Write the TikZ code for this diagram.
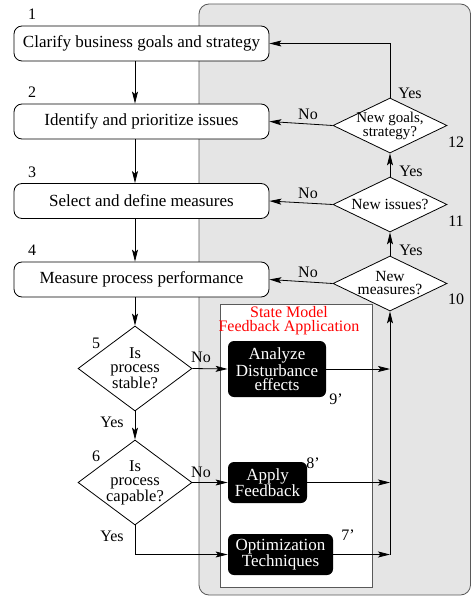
\documentclass[tikz,border=0pt]{standalone}
\usepackage{fontspec}
\setmainfont{Liberation Serif}
\usetikzlibrary{shapes.geometric,arrows.meta}
\begin{document}
\begin{tikzpicture}[x=1pt,y=-1pt,line width=0.8pt,
  box/.style={draw, rounded corners=8pt, fill=white, minimum width=255pt, minimum height=35pt, inner sep=0pt, font=\fontsize{17}{18}\selectfont},
  dec/.style={draw, diamond, fill=white, inner sep=0pt, minimum width=114pt},
  dtext/.style={inner sep=0pt, align=center},
  blk/.style={fill=black, text=white, rounded corners=6pt, align=center, inner sep=0pt, font=\fontsize{17}{14}\selectfont},
  lbl/.style={inner sep=0pt, font=\fontsize{16}{16}\selectfont},
  arr/.style={-{Stealth[length=12pt,width=6pt,inset=2.5pt]}}
]
\useasboundingbox (0,0) rectangle (471,596);
% panels
\draw[fill=black!10, draw=black!65, rounded corners=10pt] (199,4) rectangle (470.5,595);
\draw[fill=white, draw=black!65] (220,304) rectangle (372,587);
\node[inner sep=0pt, text=red, align=center, font=\fontsize{16}{14}\selectfont] (title) at (289,321) {State Model\\Feedback Application};
% left boxes
\node[box] (b1) at (141.5,43.5) {Clarify business goals and strategy};
\node[box] (b2) at (141.5,121.5) {Identify and prioritize issues};
\node[box] (b3) at (141.5,201) {Select and define measures};
\node[box] (b4) at (141.5,279.5) {Measure process performance};
% decisions
\node[dec, minimum height=85pt] (d5) at (135,368.5) {};
\node[dtext, font=\fontsize{16.5}{14}\selectfont] (t5) at (d5) {Is\\process\\stable?};
\node[dec, minimum height=85pt] (d6) at (135,482.5) {};
\node[dtext, font=\fontsize{16.5}{14}\selectfont] (t6) at (d6) {Is\\process\\capable?};
\node[dec, minimum height=55pt] (d10) at (390,283.5) {};
\node[dtext, font=\fontsize{15.5}{13}\selectfont] (t10) at (d10) {New\\measures?};
\node[dec, minimum height=55pt] (d11) at (390,204.5) {};
\node[dtext, font=\fontsize{15.5}{14}\selectfont] (t11) at (d11) {New issues?};
\node[dec, minimum height=55pt] (d12) at (390,125.5) {};
\node[dtext, font=\fontsize{15}{11}\selectfont] (t12) at (d12) {New goals,\\strategy?};
% black boxes
\node[blk, minimum width=98pt, minimum height=56pt] (an) at (277,369) {Analyze\\Disturbance\\effects};
\node[blk, minimum width=79pt, minimum height=41pt] (ap) at (267.5,482.5) {Apply\\Feedback};
\node[blk, minimum width=105pt, minimum height=41pt] (op) at (280.5,554.5) {Optimization\\Techniques};
% numbers
\node[lbl] (n1) at (32,14) {1};
\node[lbl] (n2) at (32,92) {2};
\node[lbl] (n3) at (32,172) {3};
\node[lbl] (n4) at (32,250) {4};
\node[lbl] (n5) at (96,343) {5};
\node[lbl] (n6) at (96,456) {6};
\node[lbl] (n7) at (348,535) {7'};
\node[lbl] (n8) at (313,463) {8'};
\node[lbl] (n9) at (336,399) {9'};
\node[lbl] (n10) at (456,299) {10};
\node[lbl] (n11) at (456,221) {11};
\node[lbl] (n12) at (456,142) {12};
% yes/no labels
\node[lbl] (y12) at (410,93) {Yes};
\node[lbl] (y11) at (411,171) {Yes};
\node[lbl] (y10) at (411,250) {Yes};
\node[lbl] (y5) at (112,422) {Yes};
\node[lbl] (y6) at (112,536) {Yes};
\node[lbl] (no2) at (308,114) {No};
\node[lbl] (no3) at (308,193) {No};
\node[lbl] (no4) at (308,272) {No};
\node[lbl] (no5) at (201,357) {No};
\node[lbl] (no6) at (201,472) {No};
% connectors, main column
\draw[arr] (b1.south -| d5.north) -- (b2.north -| d5.north);
\draw[arr] (b2.south -| d5.north) -- (b3.north -| d5.north);
\draw[arr] (b3.south -| d5.north) -- (b4.north -| d5.north);
\draw[arr] (b4.south -| d5.north) -- (d5.north);
\draw[arr] (d5.south) -- (d6.north);
\draw[arr] (d5.east) -- (an.west);
\draw[arr] (d6.east) -- (ap.west);
\draw[arr] (d6.south) |- (op.west);
% right side
\draw[arr] (an.east) -- (an.east -| d10.south);
\draw[arr] (ap.east) -- (ap.east -| d10.south);
\draw[arr] (op.east) -- (op.east -| d10.south);
\draw[arr] (op.east -| d10.south) -- (d10.south);
\draw[arr] (d10.north) -- (d11.south);
\draw[arr] (d11.north) -- (d12.south);
\draw[arr] (d12.north) |- (b1.east);
\draw[arr] (d12.west) -- (b2.east);
\draw[arr] (d11.west) -- (b3.east);
\draw[arr] (d10.west) -- (b4.east);
\end{tikzpicture}
\end{document}
